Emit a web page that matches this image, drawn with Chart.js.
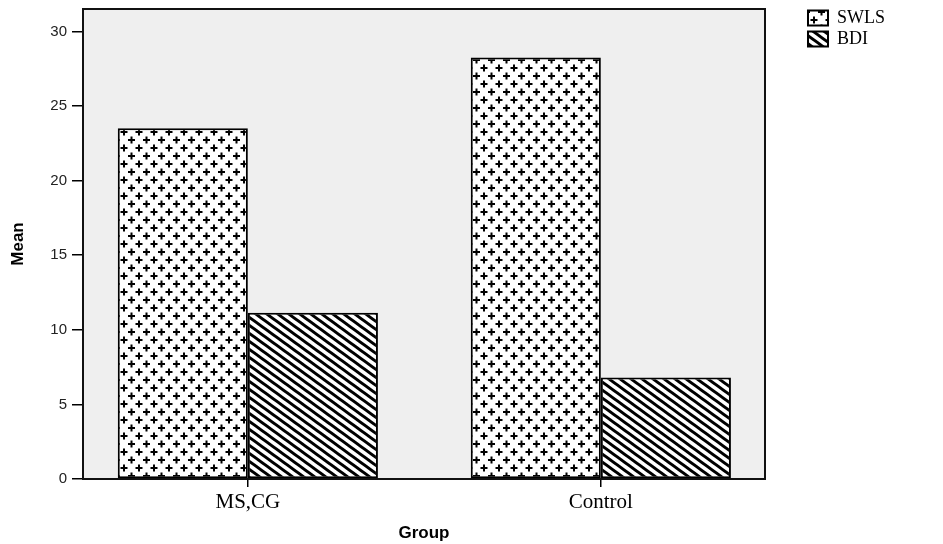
<!DOCTYPE html>
<html>
<head>
<meta charset="utf-8">
<script src="https://cdn.jsdelivr.net/npm/chart.js@4.4.1/dist/chart.umd.min.js"></script>
<style>
  html, body { margin: 0; padding: 0; background: #fff; }
  #wrap { width: 943px; height: 544px; }
</style>
</head>
<body>
<div id="wrap"><canvas id="myChart" width="943" height="544"></canvas></div>
<script>
// values
const groups = ['MS,CG', 'Control'];
const swls = [23.5, 28.25];
const bdi = [11.15, 6.8];
const yTicks = [0, 5, 10, 15, 20, 25, 30];

// fill patterns like the SPSS hatch styles
function crossPattern() {
    const c = document.createElement('canvas');
    c.width = 15; c.height = 16;
    const g = c.getContext('2d');
    g.fillStyle = '#fff';
    g.fillRect(0, 0, 15, 16);
    g.fillStyle = '#000';
    [[4, 4], [11.5, 12]].forEach(([x, y]) => {
        g.fillRect(x - 3.5, y - 1, 7, 2);
        g.fillRect(x - 1, y - 3.5, 2, 7);
    });
    return g.createPattern(c, 'repeat');
}

function stripePattern() {
    const w = 11, h = 8;
    const c = document.createElement('canvas');
    c.width = w; c.height = h;
    const g = c.getContext('2d');
    g.fillStyle = '#fff';
    g.fillRect(0, 0, w, h);
    g.strokeStyle = '#000';
    g.lineWidth = 3;
    for (let k = -1; k <= 1; k++) {
        g.beginPath();
        g.moveTo(-w, -h + k * h);
        g.lineTo(2 * w, 2 * h + k * h);
        g.stroke();
    }
    return g.createPattern(c, 'repeat');
}

const plotFrame = {
    id: 'plotFrame',
    beforeDatasetsDraw(chart) {
        const a = chart.chartArea, ctx = chart.ctx;
        ctx.save();
        ctx.fillStyle = '#efefef';
        ctx.fillRect(a.left, a.top, a.right - a.left, a.bottom - a.top);
        ctx.restore();
    },
    afterDatasetsDraw(chart) {
        const a = chart.chartArea, ctx = chart.ctx;
        ctx.save();
        ctx.strokeStyle = '#111';
        ctx.lineWidth = 2;
        ctx.strokeRect(a.left, a.top, a.right - a.left, a.bottom - a.top);
        ctx.restore();
    }
};

const ctx = document.getElementById('myChart').getContext('2d');
new Chart(ctx, {
    type: 'bar',
    data: {
        datasets: [
            {
                label: 'SWLS',
                data: swls.map((v, i) => ({ x: i, y: v })),
                backgroundColor: crossPattern(),
                borderColor: '#000',
                borderWidth: 2,
                borderSkipped: false
            },
            {
                label: 'BDI',
                data: bdi.map((v, i) => ({ x: i, y: v })),
                backgroundColor: stripePattern(),
                borderColor: '#000',
                borderWidth: 2,
                borderSkipped: false
            }
        ]
    },
    options: {
        responsive: false,
        animation: false,
        categoryPercentage: 0.737,
        barPercentage: 1,
        layout: { padding: { top: 6, left: 0, right: 48, bottom: 0 } },
        plugins: {
            tooltip: { enabled: false },
            legend: {
                position: 'right',
                align: 'start',
                labels: {
                    boxWidth: 20,
                    boxHeight: 15,
                    padding: 3,
                    color: '#000',
                    font: { family: "'Liberation Serif', 'Times New Roman', serif", size: 18 }
                }
            }
        },
        scales: {
            x: {
                type: 'linear',
                offset: false,
                min: -0.467,
                max: 1.465,
                afterBuildTicks: s => { s.ticks = groups.map((g, i) => ({ value: i })); },
                afterFit: s => { s.height = 65; },
                grid: { offset: false, drawOnChartArea: false, drawTicks: true, tickLength: 8, color: '#000', lineWidth: 1.5 },
                border: { display: false },
                ticks: {
                    color: '#000',
                    padding: 3,
                    font: { family: "'Liberation Serif', 'Times New Roman', serif", size: 21 },
                    callback: v => groups[v]
                },
                title: {
                    display: true,
                    text: 'Group',
                    color: '#000',
                    padding: { top: 1, bottom: 0 },
                    font: { family: "'Liberation Sans', Arial, sans-serif", size: 17, weight: 'bold' }
                }
            },
            xTop: {
                type: 'linear',
                position: 'top',
                offset: false,
                afterFit: s => { s.height = 3; },
                grid: { display: false },
                border: { display: false },
                ticks: { display: false }
            },
            y: {
                min: 0,
                max: 31.5,
                afterBuildTicks: s => { s.ticks = yTicks.map(v => ({ value: v })); },
                afterFit: s => { s.width = 83; s.paddingTop = 0; s.paddingBottom = 0; },
                grid: { drawOnChartArea: false, drawTicks: true, tickLength: 11, color: '#000', lineWidth: 1.5 },
                border: { display: false },
                ticks: {
                    color: '#222',
                    padding: 5,
                    font: { family: "'Liberation Sans', Arial, sans-serif", size: 15 }
                },
                title: {
                    display: true,
                    text: 'Mean',
                    color: '#000',
                    padding: { top: 8, bottom: 0 },
                    font: { family: "'Liberation Sans Narrow', 'Liberation Sans', Arial, sans-serif", size: 17, weight: 'bold' }
                }
            },
            yRight: {
                position: 'right',
                afterFit: s => { s.width = 40; },
                grid: { display: false },
                border: { display: false },
                ticks: { display: false }
            }
        }
    },
    plugins: [plotFrame]
});
</script>
</body>
</html>
